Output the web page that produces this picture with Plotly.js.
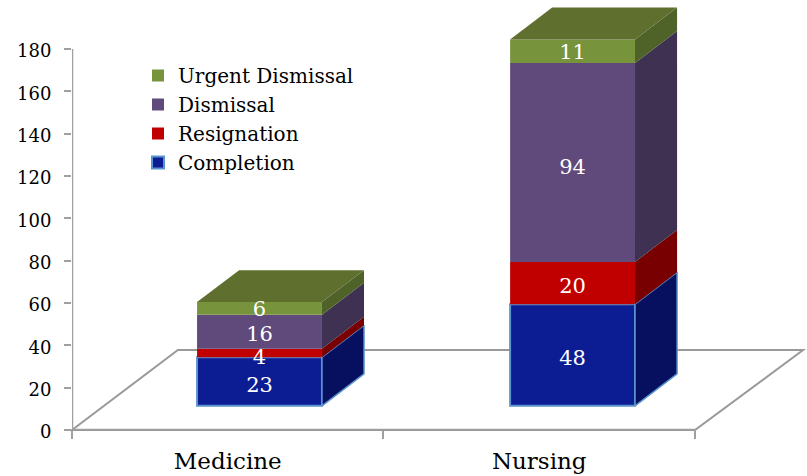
<!DOCTYPE html>
<html>
<head>
<meta charset="utf-8">
<script src="https://cdn.plot.ly/plotly-3.0.1.min.js"></script>
<style>html,body{margin:0;padding:0;background:#fff}#chart{width:807px;height:476px}</style>
</head>
<body>
<div id="chart"></div>
<script>
// Data
const categories = ['Medicine', 'Nursing'];
const seriesNames = ['Completion', 'Resignation', 'Dismissal', 'Urgent Dismissal'];
const completion = [23, 48];
const resignation = [4, 20];
const dismissal = [16, 94];
const urgentDismissal = [6, 11];
const yTicks = [0, 20, 40, 60, 80, 100, 120, 140, 160, 180];

// Colours
const frontColors = ['#0C1C92', '#C00000', '#604A7B', '#77933C'];
const sideColors = ['#06105E', '#790000', '#3F3151', '#4F6228'];
const topColor = '#5F6F2E';
const edgeBlue = '#5B93CE';
const axisGray = '#A0A0A0';
const floorGray = '#999999';
const fontFam = '"DejaVu Serif", serif';

// 3D geometry in axis units
const xMax = 2.3596, yMax = 203.1;
const barCenters = [0.602, 1.607];
const barWidth = 0.401;
const floorOffset = 11.4;
const depthX = 0.135;
const depthY = 15.1;
const floorX = [0, 0.34, 2.347, 2];
const floorY = [0, 37.8, 37.8, 0];
// label placement relative to the middle of each segment, per series
const labelNudge = [[-2.4, -2], [-2.6, -2], [-2, -2.9], [-1, -1]];

const series = [completion, resignation, dismissal, urgentDismissal];
const traces = [];
const bases = [floorOffset, floorOffset];

series.forEach((vals, s) => {
  const base = bases.slice();
  traces.push({
    type: 'bar', name: seriesNames[s], x: barCenters, y: vals, base: base, width: barWidth,
    marker: {color: frontColors[s], line: {color: s === 0 ? edgeBlue : frontColors[s], width: s === 0 ? 2 : 0}},
    hoverinfo: 'name+y'
  });
  vals.forEach((v, i) => {
    const xr = barCenters[i] + barWidth / 2;
    traces.push({
      type: 'scatter', mode: 'lines', showlegend: false, hoverinfo: 'skip', fill: 'toself',
      fillcolor: sideColors[s],
      x: [xr, xr + depthX, xr + depthX, xr, xr],
      y: [base[i], base[i] + depthY, base[i] + v + depthY, base[i] + v, base[i]],
      line: s === 0 ? {color: edgeBlue, width: 1.5} : {color: sideColors[s], width: 0}
    });
    bases[i] = base[i] + v;
  });
});
// top face
bases.forEach((b, i) => {
  const xl = barCenters[i] - barWidth / 2, xr = barCenters[i] + barWidth / 2;
  traces.push({
    type: 'scatter', mode: 'lines', showlegend: false, hoverinfo: 'skip', fill: 'toself',
    fillcolor: topColor,
    x: [xl, xr, xr + depthX, xl + depthX, xl],
    y: [b, b, b + depthY, b + depthY, b],
    line: {color: topColor, width: 0}
  });
});
// value labels
const running = [floorOffset, floorOffset];
series.forEach((vals, s) => {
  traces.push({
    type: 'scatter', mode: 'text', showlegend: false, hoverinfo: 'skip',
    x: barCenters,
    y: vals.map((v, i) => running[i] + v / 2 + labelNudge[s][i]),
    text: vals.map(String), textposition: 'middle center',
    textfont: {family: fontFam, size: 21, color: '#fff'}
  });
  vals.forEach((v, i) => { running[i] += v; });
});
// axis lines, which stop at the last tick
traces.push({
  type: 'scatter', mode: 'lines', showlegend: false, hoverinfo: 'skip', cliponaxis: false,
  x: [0, 0, 2], y: [yTicks[yTicks.length - 1], 0, 0],
  line: {color: axisGray, width: 2.5}
});

const floorPath = floorX.map((x, i) => (i ? 'L' : 'M') + (x / xMax) + ',' + (floorY[i] / yMax)).join(' ') + ' Z';

const layout = {
  width: 807, height: 476,
  margin: {l: 72, r: 0, t: 0, b: 46},
  paper_bgcolor: '#fff', plot_bgcolor: 'rgba(0,0,0,0)',
  barmode: 'overlay',
  font: {family: fontFam, color: '#000'},
  xaxis: {
    range: [0, xMax], showgrid: false, zeroline: false, showline: false,
    tickmode: 'array', tickvals: [0.5, 1.5], ticktext: categories, ticks: 'outside', ticklen: 0, tickwidth: 0,
    ticklabelstandoff: 10,
    tickfont: {family: fontFam, size: 23, color: '#000'},
    minor: {tickmode: 'array', tickvals: [0, 1, 2], ticks: 'outside', ticklen: 8, tickwidth: 2, tickcolor: axisGray, showgrid: false}
  },
  yaxis: {
    range: [0, yMax], showgrid: false, zeroline: false, showline: false,
    tickmode: 'array', tickvals: yTicks, ticks: 'outside', ticklen: 7, tickwidth: 2, tickcolor: axisGray,
    ticklabelstandoff: 9, ticklabelshift: 2,
    tickfont: {family: fontFam, size: 18, color: '#000'}
  },
  shapes: [
    {type: 'path', layer: 'below', xref: 'paper', yref: 'paper', path: floorPath, line: {color: floorGray, width: 2}}
  ],
  legend: {
    x: (138 - 72) / 735, xanchor: 'left', y: 1 - 56 / 430, yanchor: 'top',
    traceorder: 'reversed', bgcolor: 'rgba(0,0,0,0)', borderwidth: 0,
    font: {family: fontFam, size: 20, color: '#000'}
  },
  showlegend: true
};

Plotly.newPlot('chart', traces, layout, {displayModeBar: false, staticPlot: true});
</script>
</body>
</html>
